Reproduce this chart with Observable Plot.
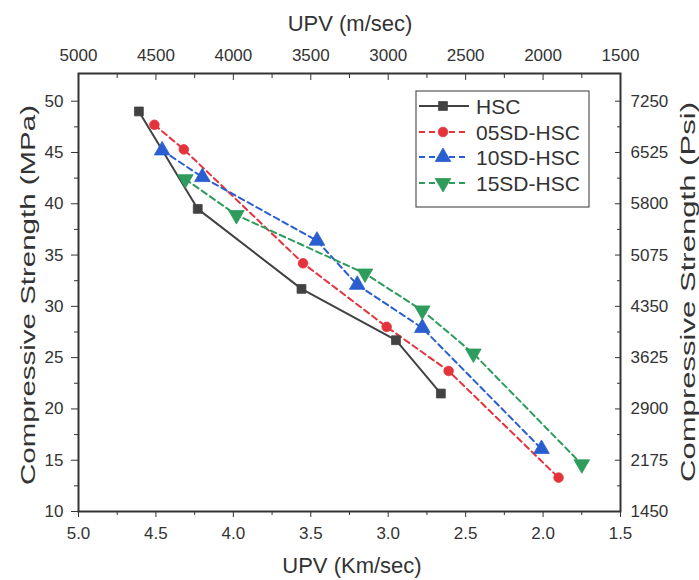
<!DOCTYPE html>
<html><head><meta charset="utf-8">
<script src="https://cdn.jsdelivr.net/npm/d3@7"></script>
<script src="https://cdn.jsdelivr.net/npm/@observablehq/plot@0.6"></script>
<style>
body{margin:0;background:#fff;}
#chart{width:699px;height:580px;}
</style></head><body><div id="chart"></div>
<script>
// ---- data ----
const seriesNames = ["HSC", "05SD-HSC", "10SD-HSC", "15SD-HSC"];
const hscUPV  = [4.61, 4.23, 3.56, 2.95, 2.66];
const hscFc   = [49.0, 39.5, 31.7, 26.7, 21.5];
const sd05UPV = [4.51, 4.32, 3.55, 3.01, 2.61, 1.90];
const sd05Fc  = [47.7, 45.3, 34.2, 28.0, 23.7, 13.3];
const sd10UPV = [4.46, 4.20, 3.46, 3.20, 2.78, 2.01];
const sd10Fc  = [45.2, 42.6, 36.4, 32.1, 27.9, 16.1];
const sd15UPV = [4.31, 3.98, 3.15, 2.78, 2.45, 1.75];
const sd15Fc  = [42.4, 38.9, 33.2, 29.6, 25.4, 14.6];

const xTicks = [5.0, 4.5, 4.0, 3.5, 3.0, 2.5, 2.0, 1.5];
const xTickLabels = ["5.0", "4.5", "4.0", "3.5", "3.0", "2.5", "2.0", "1.5"];
const xMinorTicks = [4.75, 4.25, 3.75, 3.25, 2.75, 2.25, 1.75];
const topTickLabels = ["5000", "4500", "4000", "3500", "3000", "2500", "2000", "1500"];
const yTicks = [10, 15, 20, 25, 30, 35, 40, 45, 50];
const yTickLabels = ["10", "15", "20", "25", "30", "35", "40", "45", "50"];
const yMinorTicks = [12.5, 17.5, 22.5, 27.5, 32.5, 37.5, 42.5, 47.5];
const psiTickLabels = ["1450", "2175", "2900", "3625", "4350", "5075", "5800", "6525", "7250"];

const xTitle = "UPV (Km/sec)";
const topTitle = "UPV (m/sec)";
const leftTitle = "Compressive Strength (MPa)";
const rightTitle = "Compressive Strength (Psi)";

// ---- styles ----
const FONT = '"Liberation Sans", Arial, sans-serif';
const colors = ["#424242", "#e5333c", "#2a5ed0", "#2e9c5c"];
const dashes = [null, "6,4", "6,4", "6,4"];
const symbols = ["square", "circle", "triangle", "triangle"];
const rotations = [0, 0, 0, 180];
const radii = [5, 4.8, 5.8, 5.8];

const seriesData = [[hscUPV, hscFc], [sd05UPV, sd05Fc], [sd10UPV, sd10Fc], [sd15UPV, sd15Fc]]
  .map(([u, f], s) => u.map((v, i) => ({series: seriesNames[s], upv: v, fc: f[i]})));

const fmt = (ticks, labels) => d => labels[ticks.indexOf(d)] ?? "";

const marks = [
  Plot.axisX({anchor: "bottom", ticks: xTicks, tickSize: 6, tickPadding: 9, tickFormat: fmt(xTicks, xTickLabels), label: null}),
  Plot.axisX({anchor: "bottom", ticks: xMinorTicks, tickSize: 4, tickFormat: () => "", label: null}),
  Plot.axisX({anchor: "top", ticks: xTicks, tickSize: -6, tickPadding: 19, tickFormat: fmt(xTicks, topTickLabels), label: null}),
  Plot.axisX({anchor: "top", ticks: xMinorTicks, tickSize: -4, tickFormat: () => "", label: null}),
  Plot.axisY({anchor: "left", ticks: yTicks, tickSize: 7, tickPadding: 8, tickFormat: fmt(yTicks, yTickLabels), label: null}),
  Plot.axisY({anchor: "left", ticks: yMinorTicks, tickSize: 4, tickFormat: () => "", label: null}),
  Plot.axisY({anchor: "right", ticks: yTicks, tickSize: -6, tickPadding: 16, tickFormat: fmt(yTicks, psiTickLabels), label: null}),
  Plot.axisY({anchor: "right", ticks: yMinorTicks, tickSize: -4, tickFormat: () => "", label: null}),
  Plot.frame({stroke: "#333", strokeWidth: 2})
];
seriesData.forEach((data, s) => {
  marks.push(Plot.line(data, {x: "upv", y: "fc", stroke: colors[s], strokeWidth: 2, strokeDasharray: dashes[s]}));
});
seriesData.forEach((data, s) => {
  marks.push(Plot.dot(data, {x: "upv", y: "fc", symbol: symbols[s], r: radii[s], fill: colors[s], stroke: colors[s], strokeWidth: 0.8, rotate: rotations[s]}));
});

const svg = Plot.plot({
  width: 699, height: 580,
  marginLeft: 78, marginRight: 79, marginTop: 73, marginBottom: 69,
  x: {domain: [5.0, 1.5]},
  y: {domain: [10, 52.7]},
  style: {fontFamily: FONT, fontSize: "17px", color: "#333", background: "white", overflow: "visible"},
  marks
});
document.getElementById("chart").appendChild(svg);

// ---- titles and legend ----
const g = d3.select(svg).append("g").attr("font-family", FONT).attr("fill", "#333");
g.append("text").attr("x", 350).attr("y", 31).attr("text-anchor", "middle").attr("font-size", 22).text(topTitle);
g.append("text").attr("x", 352).attr("y", 573).attr("text-anchor", "middle").attr("font-size", 22).text(xTitle);
g.append("text").attr("transform", "translate(35,295) rotate(-90)").attr("text-anchor", "middle").attr("font-size", 21)
  .attr("textLength", 380).attr("lengthAdjust", "spacingAndGlyphs").text(leftTitle);
g.append("text").attr("transform", "translate(695,292) rotate(-90)").attr("text-anchor", "middle").attr("font-size", 21)
  .attr("textLength", 380).attr("lengthAdjust", "spacingAndGlyphs").text(rightTitle);

const leg = d3.select(svg).append("g");
leg.append("rect").attr("x", 416).attr("y", 91).attr("width", 173).attr("height", 116)
  .attr("fill", "white").attr("stroke", "#555").attr("stroke-width", 1.2);
const rowY = [106, 132, 157, 183];
const d3sym = {square: d3.symbolSquare, circle: d3.symbolCircle, triangle: d3.symbolTriangle};
seriesNames.forEach((name, s) => {
  const y = rowY[s];
  leg.append("line").attr("x1", 419).attr("x2", 469).attr("y1", y).attr("y2", y)
    .attr("stroke", colors[s]).attr("stroke-width", 2).attr("stroke-dasharray", dashes[s]);
  leg.append("path").attr("d", d3.symbol(d3sym[symbols[s]], Math.PI * radii[s] * radii[s])())
    .attr("transform", `translate(443,${y}) rotate(${rotations[s]})`).attr("fill", colors[s]).attr("stroke", colors[s]).attr("stroke-width", 0.8);
  leg.append("text").attr("x", 476).attr("y", y).attr("dy", "0.36em").attr("font-size", 21)
    .attr("text-anchor", "start").attr("font-family", FONT).attr("fill", "#333").text(name);
});
</script></body></html>
